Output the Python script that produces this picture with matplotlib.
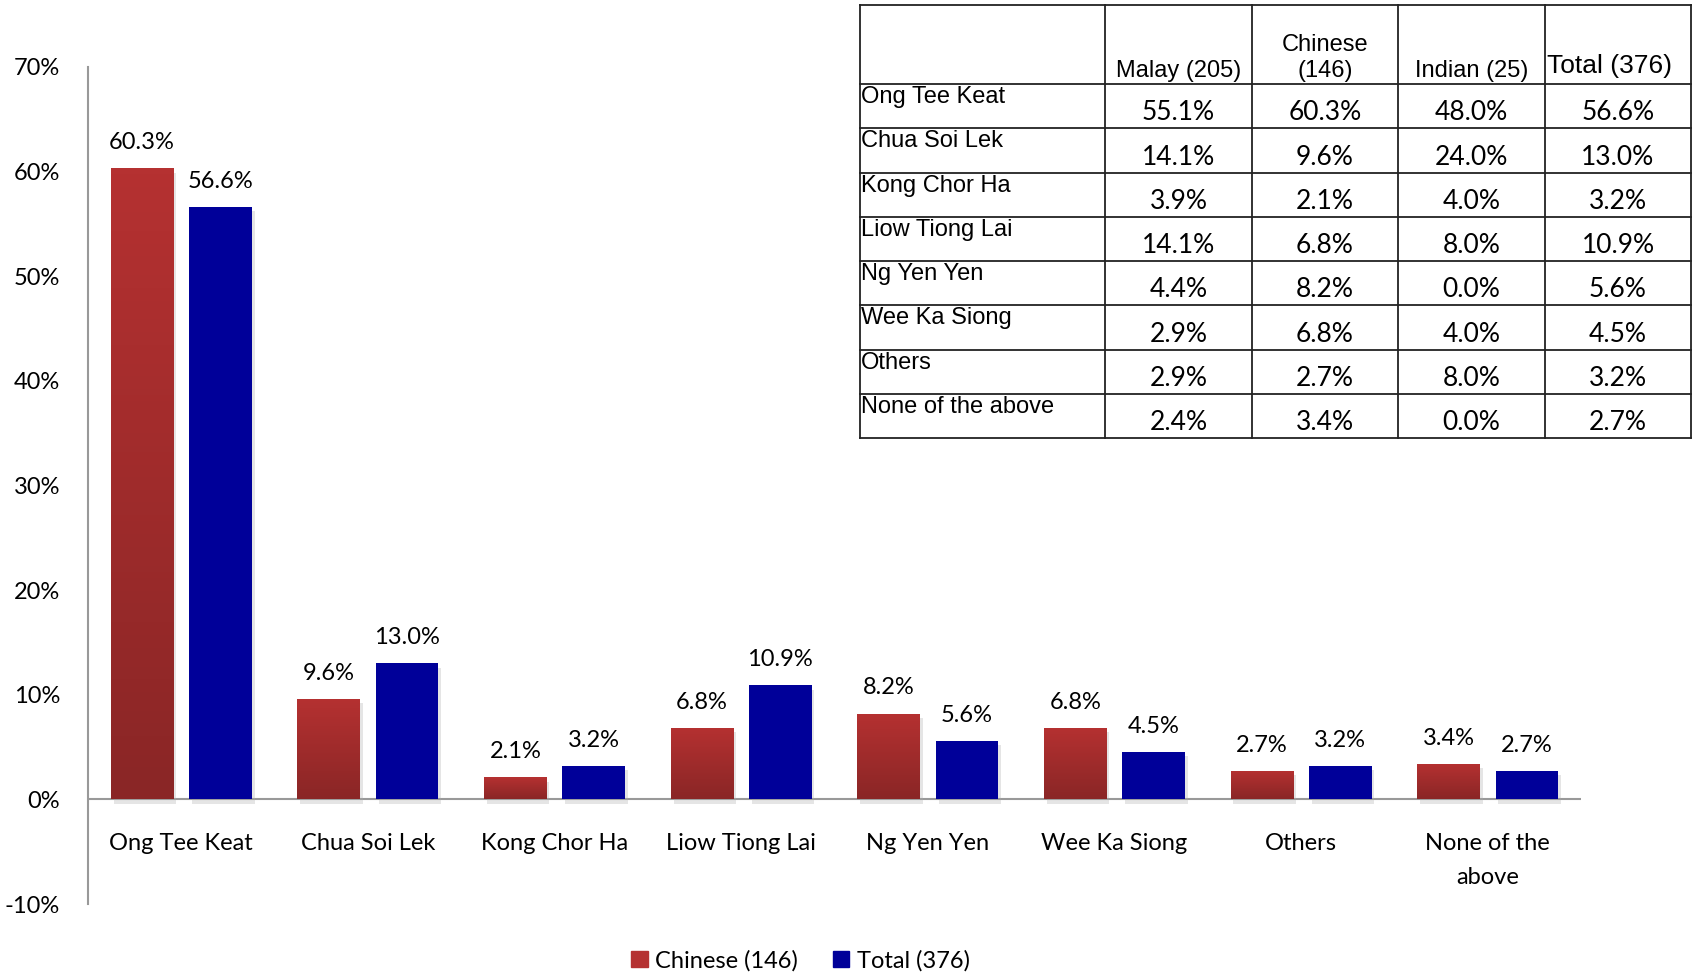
import numpy as np
import matplotlib
matplotlib.use("Agg")
import matplotlib.pyplot as plt
from matplotlib import colors
from matplotlib.patches import Patch
import matplotlib.patheffects as pe

# Datos de la encuesta (porcentajes)
cats = ["Ong Tee Keat", "Chua Soi Lek", "Kong Chor Ha", "Liow Tiong Lai",
        "Ng Yen Yen", "Wee Ka Siong", "Others", "None of the\nabove"]
row_names = ["Ong Tee Keat", "Chua Soi Lek", "Kong Chor Ha", "Liow Tiong Lai",
             "Ng Yen Yen", "Wee Ka Siong", "Others", "None of the above"]
malay = [55.1, 14.1, 3.9, 14.1, 4.4, 2.9, 2.9, 2.4]
chinese = [60.3, 9.6, 2.1, 6.8, 8.2, 6.8, 2.7, 3.4]
indian = [48.0, 24.0, 4.0, 8.0, 0.0, 4.0, 8.0, 0.0]
total = [56.6, 13.0, 3.2, 10.9, 5.6, 4.5, 3.2, 2.7]
col_heads = ["Malay (205)", "Chinese\n(146)", "Indian (25)", "Total (376)"]
yticks = [-10, 0, 10, 20, 30, 40, 50, 60, 70]

CHART_FONT = ["Lato", "DejaVu Sans"]
TABLE_FONT = ["Liberation Sans Narrow", "Liberation Sans", "DejaVu Sans"]
RED = "#b53131"
RED_DARK = "#8a2626"
BLUE = "#000099"

plt.rcParams.update({"font.family": CHART_FONT, "font.size": 17})

W, H = 1692, 972
fig = plt.figure(figsize=(W / 100, H / 100), dpi=100)
ax = fig.add_axes([88 / W, 1 - 904 / H, (1581 - 88) / W, (904 - 67) / H])

x = np.arange(len(cats))
bw = 0.335
off = 0.21
red_cmap = colors.LinearSegmentedColormap.from_list("rg", [RED_DARK, RED])
shadow = [pe.SimplePatchShadow(offset=(2, -3), shadow_rgbFace="#aaaaaa", alpha=0.3), pe.Normal()]

bars_c = ax.bar(x - off, chinese, bw, color=RED, zorder=2)
bars_t = ax.bar(x + off, total, bw, color=BLUE, zorder=2)
grad = np.linspace(0, 1, 100).reshape(-1, 1)
for b in list(bars_c) + list(bars_t):
    b.set_path_effects(shadow)
for b in bars_c:
    x0, y0 = b.get_x(), b.get_y()
    im = ax.imshow(grad, cmap=red_cmap, origin="lower", aspect="auto",
                   extent=[x0, x0 + b.get_width(), y0, y0 + b.get_height()], zorder=3)
    im.set_clip_path(b)

for bars, vals in ((bars_c, chinese), (bars_t, total)):
    for b, v in zip(bars, vals):
        ax.annotate(f"{v:.1f}%", (b.get_x() + b.get_width() / 2, v),
                    xytext=(0, 11), textcoords="offset points",
                    ha="center", va="bottom", fontsize=17)

ax.set_xlim(-0.5, len(cats) - 0.5)
ax.set_ylim(-10, 70)
ax.set_yticks(yticks)
ax.set_yticklabels([f"{t}%" for t in yticks])
ax.tick_params(axis="y", length=0, pad=20, labelsize=17)
ax.set_xticks([])
for s in ("top", "right", "bottom"):
    ax.spines[s].set_visible(False)
ax.spines["left"].set_color("#999999")
ax.spines["left"].set_linewidth(1.5)
ax.axhline(0, color="#999999", lw=1.5, zorder=1)
for xi, c in zip(x, cats):
    ax.text(xi, -3.2, c, ha="center", va="top", fontsize=17, linespacing=1.75)

fig.legend(handles=[Patch(color=RED, label="Chinese (146)"), Patch(color=BLUE, label="Total (376)")],
           loc="lower center", bbox_to_anchor=(0.473, -0.021), ncol=2, frameon=False,
           fontsize=17, handlelength=0.7, handleheight=0.7, handletextpad=0.3, columnspacing=1.5)

# Tabla superpuesta (coordenadas en pixeles)
tx = fig.add_axes([0, 0, 1, 1], zorder=5)
tx.set_xlim(0, W)
tx.set_ylim(H, 0)
tx.axis("off")
cols = [860, 1105, 1252, 1398, 1545, 1691]
rows = [5, 84, 128, 173, 217, 261, 305, 350, 394, 438]
for cx in cols:
    tx.plot([cx, cx], [rows[0], rows[-1]], color="#222222", lw=1.3)
for ry in rows:
    tx.plot([cols[0], cols[-1]], [ry, ry], color="#222222", lw=1.3)
for j, h in enumerate(col_heads):
    cx = (cols[j + 1] + cols[j + 2]) / 2
    big = j == 3
    tx.text(cx if not big else cols[j + 1] + 2, rows[1] - (2 if not big else 6), h,
            ha="center" if not big else "left", va="bottom", family=TABLE_FONT,
            fontsize=17 if not big else 19, linespacing=1.25)
table_vals = [malay, chinese, indian, total]
for i, name in enumerate(row_names):
    top, bot = rows[i + 1], rows[i + 2]
    tx.text(cols[0] + 1, top + 2, name, ha="left", va="top", family=TABLE_FONT, fontsize=17)
    for j, vals in enumerate(table_vals):
        cx = (cols[j + 1] + cols[j + 2]) / 2
        tx.text(cx, bot - 3, f"{vals[i]:.1f}%", ha="center", va="bottom",
                family=CHART_FONT, fontsize=19)

fig.savefig("out.png", dpi=100)
